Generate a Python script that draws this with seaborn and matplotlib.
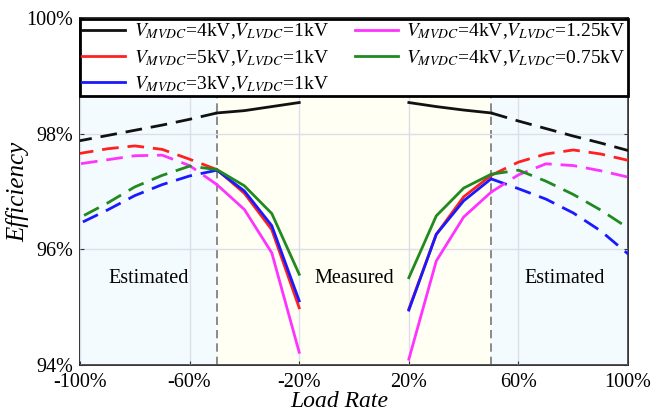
import numpy as np
import pandas as pd
import matplotlib
matplotlib.use('Agg')
import matplotlib.pyplot as plt
import seaborn as sns

# load rate points (%), measured 20..50, estimated 50..100
meas_x = [20, 30, 40, 50]
est_x = [50, 60, 70, 80, 90, 100]

labels = [r'$V_{MVDC}$=4kV,$V_{LVDC}$=1kV',
          r'$V_{MVDC}$=5kV,$V_{LVDC}$=1kV',
          r'$V_{MVDC}$=3kV,$V_{LVDC}$=1kV',
          r'$V_{MVDC}$=4kV,$V_{LVDC}$=1.25kV',
          r'$V_{MVDC}$=4kV,$V_{LVDC}$=0.75kV']
colors = ['#111111', '#ff2020', '#1a1aff', '#ff33ff', '#208a20']

# negative side (reverse power), values at -20..-50 and -50..-100
neg_meas = [
    [98.54, 98.47, 98.40, 98.36],
    [94.99, 96.34, 96.97, 97.38],
    [95.11, 96.41, 97.01, 97.37],
    [94.22, 95.94, 96.69, 97.12],
    [95.57, 96.62, 97.10, 97.38],
]
neg_est = [
    [98.36, 98.25, 98.15, 98.06, 97.97, 97.88],
    [97.38, 97.56, 97.73, 97.79, 97.74, 97.66],
    [97.37, 97.27, 97.12, 96.93, 96.68, 96.45],
    [97.12, 97.45, 97.63, 97.62, 97.55, 97.48],
    [97.38, 97.44, 97.28, 97.08, 96.80, 96.55],
]
# positive side
pos_meas = [
    [98.54, 98.47, 98.41, 98.36],
    [94.97, 96.26, 96.91, 97.28],
    [94.95, 96.26, 96.84, 97.22],
    [94.10, 95.80, 96.56, 96.99],
    [95.51, 96.58, 97.06, 97.30],
]
pos_est = [
    [98.36, 98.22, 98.09, 97.96, 97.84, 97.71],
    [97.28, 97.51, 97.65, 97.72, 97.65, 97.54],
    [97.22, 97.05, 96.87, 96.63, 96.32, 95.92],
    [96.99, 97.29, 97.48, 97.45, 97.36, 97.25],
    [97.30, 97.37, 97.18, 96.95, 96.68, 96.37],
]

plt.rcParams['font.family'] = ['Liberation Serif', 'DejaVu Serif']
plt.rcParams['mathtext.fontset'] = 'stix'

fig = plt.figure(figsize=(6.55, 4.12), dpi=100)
ax = fig.add_axes([0.122, 0.114, 0.837, 0.842])

ax.axvspan(-100, -50, color='#f4fbfe', zorder=0)
ax.axvspan(-50, 50, color='#fffff4', zorder=0)
ax.axvspan(50, 100, color='#f4fbfe', zorder=0)

dash = (0, (6, 3.2))
for i in range(5):
    segs = [
        ([-x for x in meas_x], neg_meas[i], '-'),
        ([-x for x in est_x], neg_est[i], dash),
        (meas_x, pos_meas[i], '-'),
        (est_x, pos_est[i], dash),
    ]
    for k, (xs, ys, ls) in enumerate(segs):
        df = pd.DataFrame({'load': xs, 'eff': ys})
        sns.lineplot(data=df, x='load', y='eff', ax=ax, color=colors[i],
                     linestyle=ls, linewidth=2, sort=False, zorder=3,
                     label=labels[i] if k == 0 else None, legend=False)

ax.axvline(-50, color='#777777', lw=1.2, ls=(0, (5, 3)), zorder=2)
ax.axvline(50, color='#777777', lw=1.2, ls=(0, (5, 3)), zorder=2)

ax.set_xlim(-100, 100)
ax.set_ylim(94, 100)
ax.set_xticks([-100, -60, -20, 20, 60, 100])
ax.set_xticklabels(['-100%', '-60%', '-20%', '20%', '60%', '100%'])
ax.set_yticks([94, 96, 98, 100])
ax.set_yticklabels(['94%', '96%', '98%', '100%'])
ax.grid(True, color='#dcdfea', lw=1, zorder=1)
ax.set_axisbelow(False)
ax.tick_params(direction='in', length=3, labelsize=14.5, color='#334',
               right=True, top=False)
ax.tick_params(axis='x', pad=6)
ax.tick_params(axis='y', pad=5)
for s in ax.spines.values():
    s.set_linewidth(1.3)
    s.set_color('#222222')

ax.set_xlabel('Load Rate', fontsize=17, style='italic')
ax.set_ylabel('Efficiency', fontsize=18, style='italic')
ax.xaxis.label.set_va('center')
ax.xaxis.set_label_coords(0.473, -0.106)
ax.yaxis.set_label_coords(-0.092, 0.5)

ax.text(-75, 95.5, 'Estimated', fontsize=14.5, ha='center', va='center')
ax.text(0, 95.5, 'Measured', fontsize=14.5, ha='center', va='center')
ax.text(77, 95.5, 'Estimated', fontsize=14.5, ha='center', va='center')

h, l = ax.get_legend_handles_labels()
leg = ax.legend(h, l, ncol=2,
                loc='upper left', bbox_to_anchor=(0, 0.997, 1.0, 0.0),
                mode='expand', borderaxespad=0, fontsize=14,
                frameon=True, fancybox=False, framealpha=1,
                handlelength=2.2, labelspacing=0.33, borderpad=0.12,
                columnspacing=0.6, handletextpad=0.45)
leg.get_frame().set_edgecolor('black')
leg.get_frame().set_linewidth(2)
leg.set_zorder(10)

fig.savefig('out.png', dpi=100)
